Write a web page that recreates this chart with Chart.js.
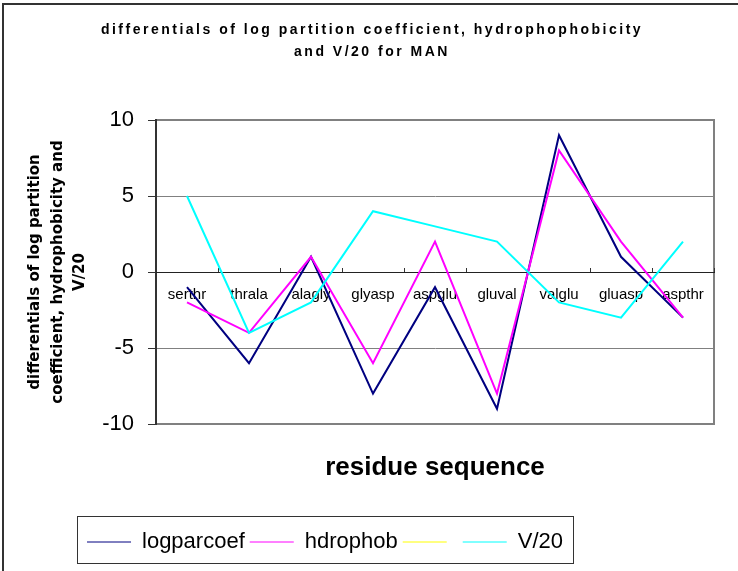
<!DOCTYPE html>
<html>
<head>
<meta charset="utf-8">
<title>differentials for MAN</title>
<script src="https://cdn.jsdelivr.net/npm/chart.js@4.4.1/dist/chart.umd.min.js"></script>
<style>
  html, body { margin: 0; padding: 0; background: #fff; }
  canvas { display: block; }
</style>
</head>
<body>
<canvas id="chart" width="738" height="571"></canvas>
<script>
const categories = ["serthr", "thrala", "alagly", "glyasp", "aspglu", "gluval", "valglu", "gluasp", "aspthr"];
const logparcoef = [-1, -6, 1, -8, -1, -9, 9, 1, -3];
const hdrophob = [-2, -4, 1, -6, 2, -8, 8, 2, -3];
const blankSeries = [null, null, null, null, null, null, null, null, null];
const v20 = [5, -4, -2, 4, 3, 2, -2, -3, 2];
const yTicks = [-10, -5, 0, 5, 10];

const titleLines = ["differentials of log partition coefficient, hydrophophobicity", "and V/20 for MAN"];
const yTitle = ["differentials of log partition", "coefficient, hydrophobicity and", "V/20"];

const sans = "'Liberation Sans', Arial, sans-serif";

// frame, plot border and letter-spaced title
const decor = {
    id: "decor",
    beforeDraw(chart) {
        const ctx = chart.ctx;
        const a = chart.chartArea;
        ctx.save();
        ctx.fillStyle = "#fff";
        ctx.fillRect(0, 0, chart.width, chart.height);
        ctx.fillStyle = "#333";
        ctx.fillRect(2, 3, 2, chart.height - 3);
        ctx.fillRect(2, 3, chart.width - 2, 2);
        ctx.strokeStyle = "#808080";
        ctx.lineWidth = 2;
        ctx.strokeRect(a.left, a.top, a.right - a.left, a.bottom - a.top);
        ctx.restore();
    },
    afterLayout(chart) {
        chart.legend.left -= 44;
        chart.legend.right -= 44;
    },
    afterDraw(chart) {
        const ctx = chart.ctx;
        ctx.save();
        ctx.fillStyle = "#000";
        ctx.font = "bold 14px " + sans;
        ctx.letterSpacing = "2.5px";
        ctx.textAlign = "center";
        ctx.textBaseline = "middle";
        ctx.fillText(titleLines[0], 372, 30);
        ctx.fillText(titleLines[1], 372, 52);
        ctx.restore();

        // box round the legend
        const lg = chart.legend;
        const boxes = lg.legendHitBoxes;
        if (boxes && boxes.length) {
            const first = boxes[0];
            const last = boxes[boxes.length - 1];
            ctx.save();
            ctx.strokeStyle = "#333";
            ctx.lineWidth = 1;
            const l = Math.round(first.left - 10) + 0.5;
            const r = Math.round(last.left + last.width + 10) + 0.5;
            ctx.strokeRect(l, lg.top - 9.5, r - l, 47);
            ctx.restore();
        }
    }
};

const ctx = document.getElementById("chart").getContext("2d");
new Chart(ctx, {
    type: "line",
    data: {
        labels: categories,
        datasets: [
            { label: "logparcoef", data: logparcoef, borderColor: "#000080", backgroundColor: "#000080", order: 3 },
            { label: "hdrophob", data: hdrophob, borderColor: "#FF00FF", backgroundColor: "#FF00FF", order: 2 },
            { label: "", data: blankSeries, borderColor: "#FFFF00", backgroundColor: "#FFFF00", order: 1 },
            { label: "V/20", data: v20, borderColor: "#00FFFF", backgroundColor: "#00FFFF", order: 0 }
        ]
    },
    options: {
        responsive: false,
        animation: false,
        devicePixelRatio: 1,
        elements: {
            line: { borderWidth: 2, tension: 0, fill: false },
            point: { radius: 0, hoverRadius: 0 }
        },
        layout: {
            padding: { top: 120, right: 24, bottom: 8, left: 24 }
        },
        plugins: {
            title: { display: false },
            tooltip: { enabled: false },
            legend: {
                position: "bottom",
                labels: {
                    font: { family: sans, size: 22 },
                    color: "#000",
                    usePointStyle: true,
                    pointStyle: "line",
                    pointStyleWidth: 44,
                    padding: 5,
                    sort: (a, b) => a.datasetIndex - b.datasetIndex
                }
            }
        },
        scales: {
            y: {
                min: -10,
                max: 10,
                afterBuildTicks: (scale) => { scale.ticks = yTicks.map(v => ({ value: v })); },
                afterFit: (scale) => { scale.width = 132; },
                ticks: {
                    font: { family: sans, size: 22 },
                    color: "#000",
                    padding: 14
                },
                grid: {
                    color: (c) => (c.tick && c.tick.value === 0 ? "#222" : "#808080"),
                    tickColor: "#333",
                    tickLength: 8,
                    lineWidth: 1
                },
                border: { display: true, color: "#333", width: 2 },
                title: {
                    display: true,
                    text: yTitle,
                    font: { family: "'DejaVu Sans', sans-serif", size: 15, weight: "bold", lineHeight: 1.5 },
                    color: "#000",
                    padding: { top: 0, bottom: 0 }
                }
            },
            x: {
                type: "category",
                position: { y: 0 },
                offset: true,
                grid: {
                    display: true,
                    drawOnChartArea: false,
                    drawTicks: true,
                    tickLength: -5,
                    offset: true,
                    color: "#333"
                },
                border: { display: true, color: "#222", width: 1 },
                ticks: {
                    font: { family: sans, size: 15 },
                    color: "#000",
                    padding: 19,
                    maxRotation: 0,
                    autoSkip: false
                }
            },
            x2: {
                type: "category",
                position: "bottom",
                offset: true,
                grid: { display: false, drawTicks: false },
                border: { display: false },
                ticks: { display: false },
                afterFit: (scale) => { scale.height = 102; },
                title: {
                    display: true,
                    text: "residue sequence",
                    font: { family: sans, size: 26, weight: "bold" },
                    color: "#000",
                    padding: { top: 0, bottom: 43 }
                }
            }
        }
    },
    plugins: [decor]
});
</script>
</body>
</html>
